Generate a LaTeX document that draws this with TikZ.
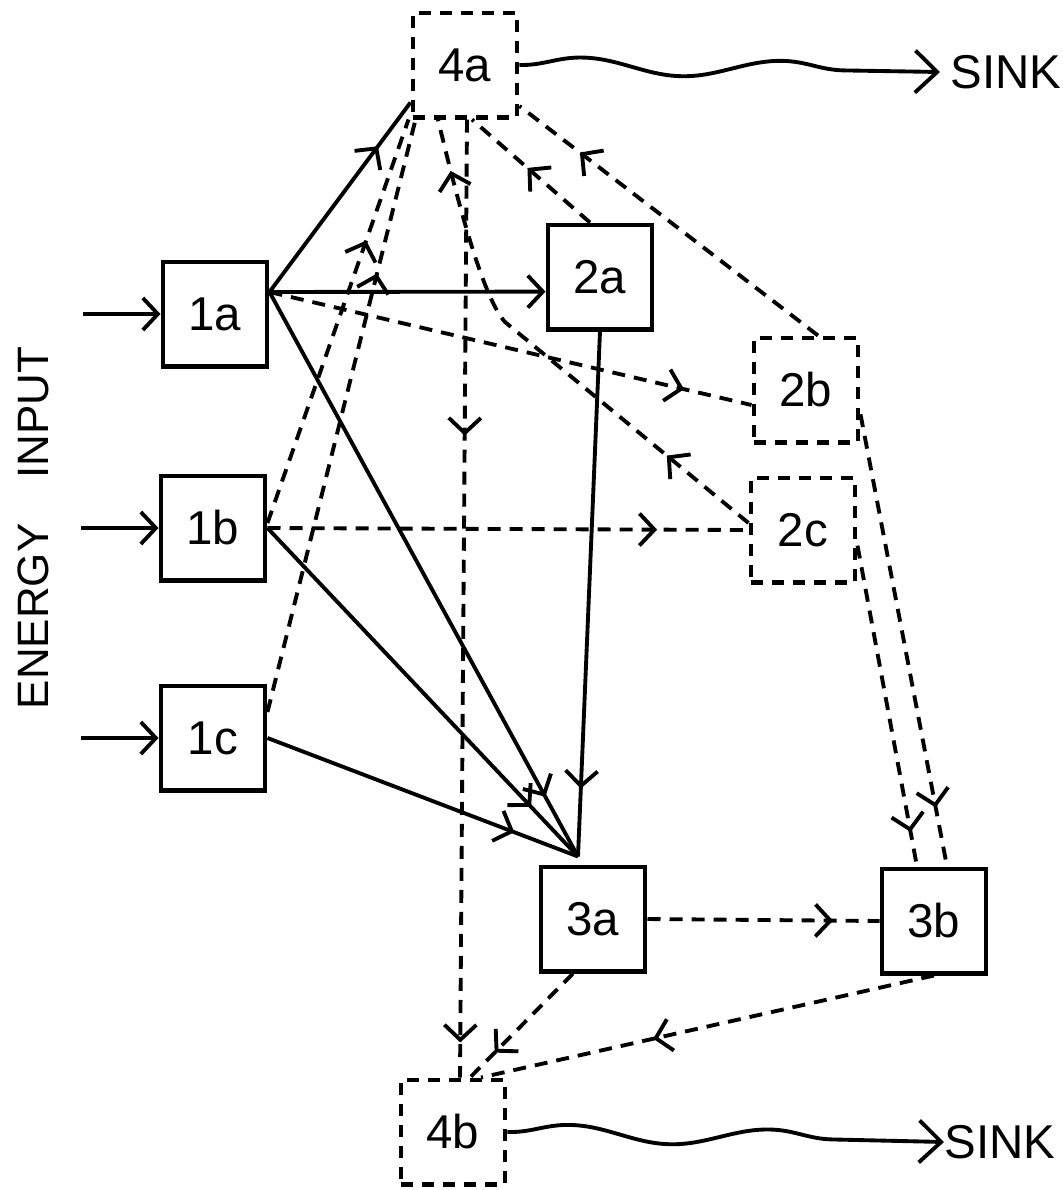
\documentclass[tikz,border=0pt]{standalone}
\usepackage{fontspec}
\setmainfont{Liberation Sans}
\usetikzlibrary{arrows.meta,decorations.markings,decorations.pathmorphing}

\tikzset{
  barb/.tip={Straight Barb[length=0.15cm,width=0.32cm]},
  sinktip/.tip={Straight Barb[length=0.22cm,width=0.42cm]},
  box/.style={draw, line width=1.4pt, minimum width=1.04cm, minimum height=1.04cm, inner sep=0pt, font=\fontsize{13.5}{15}\selectfont},
  dbox/.style={box, dash pattern=on 0.12cm off 0.09cm},
  flow/.style={line width=1.1pt},
  dflow/.style={flow, dash pattern=on 0.13cm off 0.09cm},
  wave/.style={flow, -sinktip, decorate, decoration={snake, segment length=2cm, amplitude=0.085cm, post length=0.35cm}},
  mid/.style={postaction={decorate, decoration={markings, mark=at position #1 with {\arrow{barb}}}}}
}

\begin{document}
\begin{tikzpicture}[x=0.01cm, y=-0.01cm]
    \useasboundingbox (0,0) rectangle (1062,1190);
    \node[dbox] (n4a) at (465,65) {4a};
    \node[box] (n2a) at (600,277) {2a};
    \node[box] (n1a) at (215,314) {1a};
    \node[dbox] (n2b) at (806,390) {2b};
    \node[box] (n1b) at (213,528) {1b};
    \node[dbox] (n2c) at (803,530) {2c};
    \node[box] (n1c) at (213,738) {1c};
    \node[box] (n3a) at (593,919) {3a};
    \node[box] (n3b) at (934,921) {3b};
    \node[dbox] (n4b) at (453,1132) {4b};
    \node[font=\fontsize{13.5}{15}\selectfont, anchor=west, inner sep=0pt] (sinka) at (950,72) {SINK};
    \node[font=\fontsize{13.5}{15}\selectfont, anchor=west, inner sep=0pt] (sinkb) at (944,1142) {SINK};
    \node[font=\fontsize{12.5}{15}\selectfont, rotate=90] (lbl) at (33,528) {ENERGY\hspace{0.45cm}INPUT};
    \coordinate (hub) at ([xshift=-0.15cm,yshift=0.08cm]n3a.north);
    \coordinate (bend) at (505,322);

    \foreach \n in {a,b,c} \draw[flow,-barb] ([xshift=-0.77cm]n1\n.west) -- (n1\n.west);

    \draw[flow,mid=0.77] (n1a.22) -- ([yshift=0.17cm]n4a.south west);
    \draw[flow,-barb] (n1a.22) -- (n2a.195);
    \draw[flow,mid=-0.68cm] (n1a.22) -- (hub);
    \draw[flow,mid=-0.68cm] (n1b.east) -- (hub);
    \draw[flow,mid=-0.68cm] (n1c.east) -- (hub);
    \draw[flow,mid=-0.68cm] (n2a.south) -- (hub);

    \draw[dflow,mid=0.86] (n1a.22) -- ([yshift=-0.15cm]n2b.west);
    \draw[dflow,mid=0.81] (n1b.east) -- (n2c.west);
    \draw[dflow,mid=0.7] ([yshift=0.05cm]n1b.east) -- ([xshift=-0.02cm]n4a.south west);
    \draw[dflow,mid=0.74] ([yshift=0.26cm]n1c.east) -- ([xshift=0.05cm]n4a.south west);
    \draw[dflow,mid=0.53] ([xshift=-0.1cm]n2a.north) -- ([xshift=0.07cm]n4a.south);
    \draw[dflow,mid=0.8] ([xshift=0.12cm]n2b.north) -- (n4a.-37);
    \draw[dflow,mid=0.2,mid=0.9] ([yshift=0.07cm]n2c.west) -- (bend) .. controls (485,300) and (462,220) .. ([xshift=-0.27cm]n4a.south);
    \draw[dflow,mid=0.33,mid=-0.35cm] ([xshift=0.02cm]n4a.south) -- ([xshift=0.07cm]n4b.north);
    \draw[dflow,mid=-0.6cm] (n2b.-24) -- ([xshift=0.13cm]n3b.north);
    \draw[dflow,mid=-0.35cm] (n2c.-16) -- ([xshift=-0.17cm]n3b.north);
    \draw[dflow,mid=0.8] (n3a.east) -- (n3b.west);
    \draw[dflow,mid=-0.35cm] ([xshift=-0.2cm]n3a.south) -- ([xshift=0.17cm]n4b.north);
    \draw[dflow,mid=0.62] (n3b.south) -- ([xshift=0.28cm]n4b.north);

    \draw[wave] (n4a.east) -- ([xshift=-0.1cm]sinka.west);
    \draw[wave] (n4b.east) -- (sinkb.west);
\end{tikzpicture}
\end{document}
